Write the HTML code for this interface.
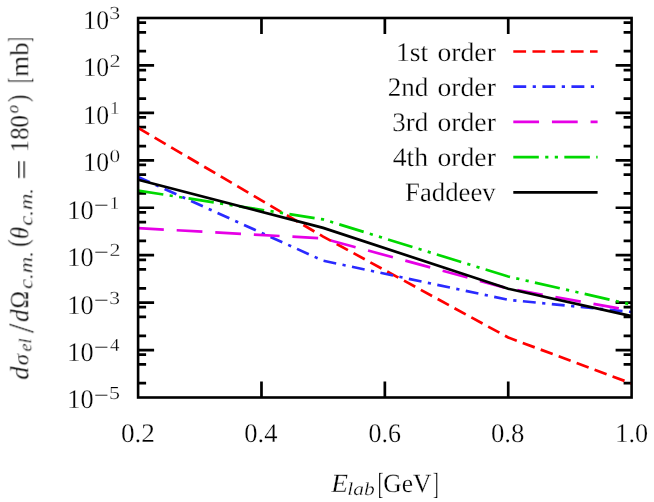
<!DOCTYPE html>
<html><head><meta charset="utf-8"><style>html,body{margin:0;padding:0;background:#fff}svg{display:block}text{font-family:"Liberation Serif",serif;fill:#000;text-rendering:geometricPrecision;stroke:#fff;stroke-width:0.25px;vector-effect:non-scaling-stroke}</style></head><body>
<svg width="654" height="502" viewBox="0 0 654 502">
<rect width="654" height="502" fill="#fff"/>
<path d="M138.10 22.60h8M631.60 22.60h-8M138.10 32.28h8M631.60 32.28h-8M138.10 51.16h8M631.60 51.16h-8M138.10 65.44h16M631.60 65.44h-16M138.10 70.03h8M631.60 70.03h-8M138.10 79.72h8M631.60 79.72h-8M138.10 98.59h8M631.60 98.59h-8M138.10 112.88h16M631.60 112.88h-16M138.10 117.47h8M631.60 117.47h-8M138.10 127.16h8M631.60 127.16h-8M138.10 146.03h8M631.60 146.03h-8M138.10 160.31h16M631.60 160.31h-16M138.10 164.91h8M631.60 164.91h-8M138.10 174.59h8M631.60 174.59h-8M138.10 193.47h8M631.60 193.47h-8M138.10 207.75h16M631.60 207.75h-16M138.10 212.35h8M631.60 212.35h-8M138.10 222.03h8M631.60 222.03h-8M138.10 240.91h8M631.60 240.91h-8M138.10 255.19h16M631.60 255.19h-16M138.10 259.78h8M631.60 259.78h-8M138.10 269.47h8M631.60 269.47h-8M138.10 288.34h8M631.60 288.34h-8M138.10 302.62h16M631.60 302.62h-16M138.10 307.22h8M631.60 307.22h-8M138.10 316.91h8M631.60 316.91h-8M138.10 335.78h8M631.60 335.78h-8M138.10 350.06h16M631.60 350.06h-16M138.10 354.66h8M631.60 354.66h-8M138.10 364.34h8M631.60 364.34h-8M138.10 383.22h8M631.60 383.22h-8M261.48 18.00v16M261.48 397.50v-16M384.85 18.00v16M384.85 397.50v-16M508.23 18.00v16M508.23 397.50v-16" stroke="#000" stroke-width="2.7" fill="none"/>
<polyline points="138.10,127.90 323.16,236.60 508.22,337.50 631.60,383.50" stroke="#ff0000" stroke-width="2.7" fill="none" stroke-dasharray="12.78,6.39"/>
<path d="M513.3 51.5H597.6" stroke="#ff0000" stroke-width="2.7" fill="none" stroke-dasharray="12.78,6.39"/>
<polyline points="138.10,177.00 323.16,260.70 508.22,299.80 631.60,312.00" stroke="#2a2aff" stroke-width="2.7" fill="none" stroke-dasharray="12.92,6.46,3.23,6.46"/>
<path d="M513.3 86.7H597.6" stroke="#2a2aff" stroke-width="2.7" fill="none" stroke-dasharray="12.92,6.46,3.23,6.46"/>
<polyline points="138.10,228.10 323.16,238.40 508.22,288.50 631.60,310.70" stroke="#e600e6" stroke-width="2.7" fill="none" stroke-dasharray="25.76,12.88"/>
<path d="M513.3 121.9H597.6" stroke="#e600e6" stroke-width="2.7" fill="none" stroke-dasharray="25.76,12.88"/>
<polyline points="138.10,190.60 323.16,219.40 508.22,276.50 631.60,304.60" stroke="#00d800" stroke-width="2.7" fill="none" stroke-dasharray="25.52,6.38,3.19,6.38,3.19,6.38"/>
<path d="M513.3 157.1H597.6" stroke="#00d800" stroke-width="2.7" fill="none" stroke-dasharray="25.52,6.38,3.19,6.38,3.19,6.38"/>
<polyline points="138.10,179.80 323.16,227.90 508.22,288.70 631.60,316.10" stroke="#000000" stroke-width="2.7" fill="none"/>
<path d="M513.3 192.3H597.6" stroke="#000000" stroke-width="2.7" fill="none"/>
<rect x="138.10" y="18.00" width="493.50" height="379.50" fill="none" stroke="#000" stroke-width="2.6"/>
<g id="txt" style="opacity:0.999">
<text transform="translate(83.31,28.90) scale(1.0084,1.05)" font-size="25.5">10</text>
<text transform="translate(109.31,19.30) scale(1.2404,1.05)" font-size="17.5">3</text>
<text transform="translate(83.31,76.34) scale(1.0084,1.05)" font-size="25.5">10</text>
<text transform="translate(109.40,66.74) scale(1.2714,1.05)" font-size="17.5">2</text>
<text transform="translate(83.31,123.77) scale(1.0084,1.05)" font-size="25.5">10</text>
<text transform="translate(109.90,114.17) scale(1.0785,1.05)" font-size="17.5">1</text>
<text transform="translate(83.31,171.21) scale(1.0084,1.05)" font-size="25.5">10</text>
<text transform="translate(109.55,161.61) scale(1.2109,1.05)" font-size="17.5">0</text>
<text transform="translate(67.37,218.65) scale(1.0308,1.05)" font-size="25.5">10</text>
<text transform="translate(94.00,211.05) scale(1.4869,1.0)" font-size="17.5" style="stroke:none">−</text>
<text transform="translate(109.80,209.05) scale(1.0785,1.05)" font-size="17.5">1</text>
<text transform="translate(67.37,266.09) scale(1.0308,1.05)" font-size="25.5">10</text>
<text transform="translate(94.00,258.49) scale(1.4869,1.0)" font-size="17.5" style="stroke:none">−</text>
<text transform="translate(109.41,256.49) scale(1.2571,1.05)" font-size="17.5">2</text>
<text transform="translate(67.37,313.53) scale(1.0308,1.05)" font-size="25.5">10</text>
<text transform="translate(94.00,305.93) scale(1.4869,1.0)" font-size="17.5" style="stroke:none">−</text>
<text transform="translate(109.33,303.93) scale(1.2265,1.05)" font-size="17.5">3</text>
<text transform="translate(67.37,360.96) scale(1.0308,1.05)" font-size="25.5">10</text>
<text transform="translate(94.00,353.36) scale(1.4869,1.0)" font-size="17.5" style="stroke:none">−</text>
<text transform="translate(110.02,351.36) scale(1.0814,1.05)" font-size="17.5">4</text>
<text transform="translate(67.37,408.40) scale(1.0308,1.05)" font-size="25.5">10</text>
<text transform="translate(94.00,400.80) scale(1.4869,1.0)" font-size="17.5" style="stroke:none">−</text>
<text transform="translate(109.08,398.80) scale(1.2571,1.05)" font-size="17.5">5</text>
<text transform="translate(120.91,441.60) scale(1.0695,1.05)" font-size="25.5">0.2</text>
<text transform="translate(244.34,441.60) scale(1.0403,1.05)" font-size="25.5">0.4</text>
<text transform="translate(368.46,441.60) scale(1.0203,1.05)" font-size="25.5">0.6</text>
<text transform="translate(490.93,441.60) scale(1.0525,1.05)" font-size="25.5">0.8</text>
<text transform="translate(615.27,441.60) scale(1.0283,1.05)" font-size="25.5">1.0</text>
<text transform="translate(395.94,60.70) scale(1.0871,1.05)" font-size="25.5">1st</text>
<text transform="translate(437.49,60.70) scale(1.0851,1.05)" font-size="25.5">order</text>
<text transform="translate(387.68,95.90) scale(1.0638,1.05)" font-size="25.5">2nd</text>
<text transform="translate(437.49,95.90) scale(1.0851,1.05)" font-size="25.5">order</text>
<text transform="translate(392.25,131.10) scale(1.0560,1.05)" font-size="25.5">3rd</text>
<text transform="translate(437.49,131.10) scale(1.0851,1.05)" font-size="25.5">order</text>
<text transform="translate(392.64,166.30) scale(1.0898,1.05)" font-size="25.5">4th</text>
<text transform="translate(437.49,166.30) scale(1.0851,1.05)" font-size="25.5">order</text>
<text transform="translate(405.10,201.20) scale(1.0481,1.05)" font-size="25.5">Faddeev</text>
<text transform="translate(331.17,491.70) scale(1.0760,1.03)" font-size="25.5" font-style="italic">E</text>
<text transform="translate(347.32,494.70) scale(1.2289,1.05)" font-size="17.5" font-style="italic">lab</text>
<text transform="translate(377.64,493.86) scale(0.6595,1.2026)" font-size="25.5">[</text>
<text transform="translate(383.28,491.70) scale(0.9996,1.03)" font-size="25.5">GeV</text>
<text transform="translate(433.11,493.86) scale(0.6623,1.2026)" font-size="25.5">]</text>
<g transform="translate(28.3,381.3) rotate(-90)">
<text transform="translate(1.60,0.00) scale(1.0430,1.03)" font-size="25.5" font-style="italic">d</text>
<text transform="translate(16.12,-0.02) scale(0.8873,0.8590)" font-size="25.5" font-style="italic">σ</text>
<text transform="translate(29.76,3.30) scale(1.0320,1.03)" font-size="17.5" font-style="italic">el</text>
<text transform="translate(48.20,4.74) scale(1.3405,1.4282)" font-size="25.5">/</text>
<text transform="translate(59.34,0.00) scale(0.9929,1.03)" font-size="25.5" font-style="italic">d</text>
<text transform="translate(72.82,0.00) scale(0.9252,1.03)" font-size="25.5">Ω</text>
<text transform="translate(92.32,3.50) scale(1.2945,1.1)" font-size="17.5" font-style="italic">c.m.</text>
<text transform="translate(134.39,-0.60) scale(0.8766,1.1024)" font-size="25.5">(</text>
<text transform="translate(142.37,0.00) scale(0.9617,1.03)" font-size="25.5" font-style="italic">θ</text>
<text transform="translate(155.42,3.50) scale(1.2945,1.1)" font-size="17.5" font-style="italic">c.m.</text>
<text transform="translate(201.49,1.61) scale(1.4168,1.0353)" font-size="25.5" style="stroke:none">=</text>
<text transform="translate(229.10,0.00) scale(0.9697,1.03)" font-size="25.5">180</text>
<text transform="translate(267.90,-9.67) scale(0.6506,0.6781)" font-size="25.5" font-style="italic">o</text>
<text transform="translate(279.14,-0.60) scale(0.8597,1.1024)" font-size="25.5">)</text>
<text transform="translate(298.54,1.24) scale(0.6061,1.2074)" font-size="25.5">[</text>
<text transform="translate(304.56,0.00) scale(1.0511,1.03)" font-size="25.5">mb</text>
<text transform="translate(339.22,1.24) scale(0.5403,1.2074)" font-size="25.5">]</text>
</g>
</g>
</svg></body></html>
